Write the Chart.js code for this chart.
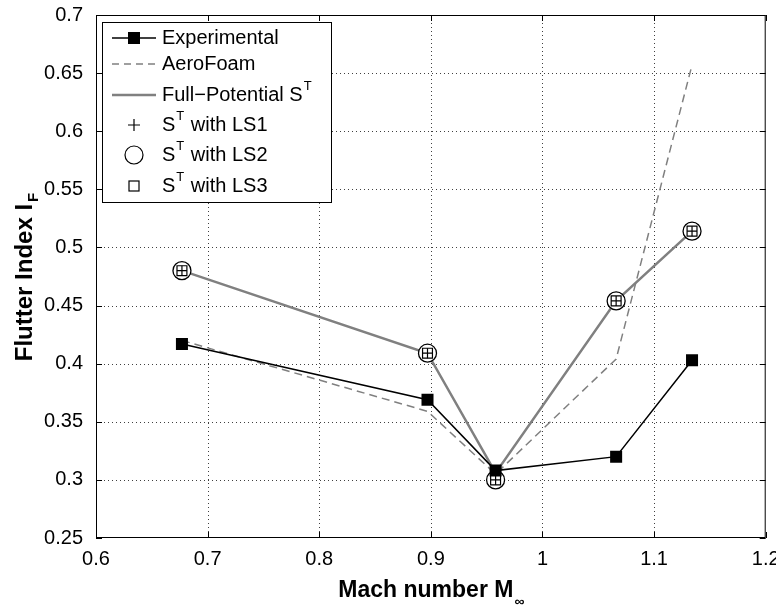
<!DOCTYPE html>
<html>
<head>
<meta charset="utf-8">
<script src="https://cdn.jsdelivr.net/npm/chart.js@4"></script>
<style>
  body { margin: 0; background: #fff; }
  #wrap { width: 776px; height: 611px; }
</style>
</head>
<body>
<div id="wrap"><canvas id="flutterChart"></canvas></div>
<script>
// Mach numbers of the test points
const mach = [0.677, 0.897, 0.958, 1.066, 1.134];

// Flutter index per series
const experimental = [0.417, 0.369, 0.308, 0.320, 0.403];
const aeroFoam = [0.420, 0.359, 0.305, 0.404, 0.657];
const fullPotential = [0.480, 0.409, 0.306, 0.454, 0.514];
const stLS1 = [0.480, 0.409, 0.300, 0.454, 0.514];
const stLS2 = [0.480, 0.409, 0.300, 0.454, 0.514];
const stLS3 = [0.480, 0.409, 0.300, 0.454, 0.514];

// Axis ticks
const xTicks = [0.6, 0.7, 0.8, 0.9, 1.0, 1.1, 1.2];
const yTicks = [0.25, 0.3, 0.35, 0.4, 0.45, 0.5, 0.55, 0.6, 0.65, 0.7];

const FONT = "'Liberation Sans', Arial, Helvetica, sans-serif";
const GRAY = '#808080';
const LEG = '20px ' + FONT;

function toPoints(ys) {
  return mach.map((m, i) => ({ x: m, y: ys[i] }));
}

function fmt(v) {
  return String(Number(v.toFixed(2)));
}

// draws "S" with a superscript T, returns the width used
function drawST(ctx, x, y) {
  ctx.font = LEG;
  ctx.fillText('S', x, y);
  let w = ctx.measureText('S').width;
  ctx.font = '13px ' + FONT;
  ctx.fillText('T', x + w + 1, y - 9);
  w += ctx.measureText('T').width + 2;
  ctx.font = LEG;
  return w;
}

// MATLAB-like dotted grid, frame, inner ticks, legend and axis titles
const matlabDecor = {
  id: 'matlabDecor',
  beforeDraw(chart) {
    const ctx = chart.ctx;
    ctx.save();
    ctx.fillStyle = '#fff';
    ctx.fillRect(0, 0, chart.width, chart.height);
    ctx.restore();
  },
  beforeDatasetsDraw(chart) {
    const { ctx, chartArea: a, scales: { x, y } } = chart;
    ctx.save();
    ctx.strokeStyle = 'rgba(0,0,0,0.75)';
    ctx.lineWidth = 1;
    ctx.setLineDash([1, 3]);
    ctx.beginPath();
    xTicks.slice(1, -1).forEach(v => {
      const px = Math.round(x.getPixelForValue(v)) + 0.5;
      ctx.moveTo(px, a.top); ctx.lineTo(px, a.bottom);
    });
    yTicks.slice(1, -1).forEach(v => {
      const py = Math.round(y.getPixelForValue(v)) + 0.5;
      ctx.moveTo(a.left, py); ctx.lineTo(a.right, py);
    });
    ctx.stroke();
    ctx.restore();
  },
  afterDraw(chart) {
    const { ctx, chartArea: a, scales: { x, y } } = chart;
    ctx.save();

    // frame
    ctx.strokeStyle = '#000';
    ctx.lineWidth = 1;
    ctx.setLineDash([]);
    ctx.strokeRect(a.left + 0.5, a.top + 0.5, a.right - a.left - 1, a.bottom - a.top - 1);

    // inner ticks on all four sides
    const tl = 6;
    ctx.beginPath();
    xTicks.forEach(v => {
      const px = Math.round(x.getPixelForValue(v)) + 0.5;
      ctx.moveTo(px, a.bottom); ctx.lineTo(px, a.bottom - tl);
      ctx.moveTo(px, a.top); ctx.lineTo(px, a.top + tl);
    });
    yTicks.forEach(v => {
      const py = Math.round(y.getPixelForValue(v)) + 0.5;
      ctx.moveTo(a.left, py); ctx.lineTo(a.left + tl, py);
      ctx.moveTo(a.right, py); ctx.lineTo(a.right - tl, py);
    });
    ctx.stroke();

    // legend box
    const lx = 102, ly = 22, lw = 229, lh = 180;
    ctx.fillStyle = '#fff';
    ctx.fillRect(lx, ly, lw, lh);
    ctx.strokeRect(lx + 0.5, ly + 0.5, lw, lh);

    const sx1 = 112, sx2 = 156, mx = 134, tx = 162;
    const rows = [38, 64, 95, 125, 155, 186];
    ctx.fillStyle = '#000';
    ctx.textBaseline = 'middle';
    ctx.textAlign = 'left';
    ctx.font = LEG;

    // Experimental
    ctx.strokeStyle = '#000';
    ctx.lineWidth = 1.5;
    ctx.beginPath(); ctx.moveTo(sx1, rows[0]); ctx.lineTo(sx2, rows[0]); ctx.stroke();
    ctx.fillRect(mx - 6, rows[0] - 6, 12, 12);
    ctx.fillText('Experimental', tx, rows[0]);

    // AeroFoam
    ctx.strokeStyle = GRAY;
    ctx.setLineDash([7, 5]);
    ctx.beginPath(); ctx.moveTo(sx1, rows[1]); ctx.lineTo(sx2, rows[1]); ctx.stroke();
    ctx.setLineDash([]);
    ctx.fillText('AeroFoam', tx, rows[1]);

    // Full-Potential
    ctx.lineWidth = 2.5;
    ctx.beginPath(); ctx.moveTo(sx1, rows[2]); ctx.lineTo(sx2, rows[2]); ctx.stroke();
    const fp = 'Full\u2212Potential ';
    ctx.fillText(fp, tx, rows[2]);
    drawST(ctx, tx + ctx.measureText(fp).width, rows[2]);

    // marker rows
    ctx.strokeStyle = '#000';
    ctx.lineWidth = 1.2;
    ctx.beginPath();
    ctx.moveTo(mx - 6, rows[3]); ctx.lineTo(mx + 6, rows[3]);
    ctx.moveTo(mx, rows[3] - 6); ctx.lineTo(mx, rows[3] + 6);
    ctx.stroke();
    ctx.beginPath(); ctx.arc(mx, rows[4], 9, 0, Math.PI * 2); ctx.stroke();
    ctx.strokeRect(mx - 5, rows[5] - 5, 10, 10);

    ['1', '2', '3'].forEach((n, i) => {
      const r = rows[3 + i];
      const w = drawST(ctx, tx, r);
      ctx.fillText(' with LS' + n, tx + w, r);
    });

    // x axis title with subscript infinity
    ctx.textBaseline = 'alphabetic';
    ctx.font = 'bold 23px ' + FONT;
    const xt = 'Mach number M';
    const xw = ctx.measureText(xt).width;
    ctx.font = 'bold 14px ' + FONT;
    const sw = ctx.measureText('\u221E').width;
    const cx = (a.left + a.right) / 2 - (xw + sw) / 2;
    ctx.font = 'bold 23px ' + FONT;
    ctx.fillText(xt, cx, 597);
    ctx.font = 'bold 14px ' + FONT;
    ctx.fillText('\u221E', cx + xw + 1, 606);

    // y axis title, rotated, with subscript F
    ctx.save();
    ctx.translate(32, 278);
    ctx.rotate(-Math.PI / 2);
    ctx.font = 'bold 24px ' + FONT;
    const yt = 'Flutter Index I';
    const yw = ctx.measureText(yt).width;
    ctx.font = 'bold 15px ' + FONT;
    const fw = ctx.measureText('F').width;
    const sy = -(yw + fw) / 2;
    ctx.font = 'bold 24px ' + FONT;
    ctx.fillText(yt, sy, 0);
    ctx.font = 'bold 15px ' + FONT;
    ctx.fillText('F', sy + yw + 2, 6);
    ctx.restore();

    ctx.restore();
  }
};

document.addEventListener('DOMContentLoaded', function() {
  const ctx = document.getElementById('flutterChart').getContext('2d');

  const flutterChart = new Chart(ctx, {
    type: 'scatter',
    data: {
      datasets: [
        {
          label: 'Experimental',
          data: toPoints(experimental),
          showLine: true,
          borderColor: '#000',
          backgroundColor: '#000',
          borderWidth: 1.5,
          pointStyle: 'rect',
          pointRadius: 8.5,
          pointBorderWidth: 0,
          order: 1
        },
        {
          label: 'AeroFoam',
          data: toPoints(aeroFoam),
          showLine: true,
          borderColor: GRAY,
          borderWidth: 1.5,
          borderDash: [8, 5],
          pointRadius: 0,
          order: 6
        },
        {
          label: 'Full-Potential S^T',
          data: toPoints(fullPotential),
          showLine: true,
          borderColor: GRAY,
          borderWidth: 2.5,
          pointRadius: 0,
          order: 5
        },
        {
          label: 'S^T with LS1',
          data: toPoints(stLS1),
          showLine: false,
          pointStyle: 'cross',
          pointRadius: 5,
          pointBorderWidth: 1.2,
          borderColor: '#000',
          order: 2
        },
        {
          label: 'S^T with LS2',
          data: toPoints(stLS2),
          showLine: false,
          pointStyle: 'circle',
          pointRadius: 9,
          pointBorderWidth: 1.3,
          borderColor: '#000',
          backgroundColor: '#fff',
          order: 4
        },
        {
          label: 'S^T with LS3',
          data: toPoints(stLS3),
          showLine: false,
          pointStyle: 'rect',
          pointRadius: 7,
          pointBorderWidth: 1.2,
          borderColor: '#000',
          backgroundColor: 'rgba(0,0,0,0)',
          order: 3
        }
      ]
    },
    options: {
      responsive: true,
      maintainAspectRatio: false,
      animation: false,
      layout: {
        padding: { top: 15, right: 8, left: 0, bottom: 0 }
      },
      plugins: {
        legend: { display: false },
        tooltip: { enabled: false }
      },
      scales: {
        x: {
          type: 'linear',
          min: 0.6,
          max: 1.2,
          afterBuildTicks: scale => {
            scale.ticks = xTicks.map(v => ({ value: v }));
          },
          afterFit: scale => {
            scale.height = 73;
            scale.paddingLeft = 0;
            scale.paddingRight = 0;
          },
          ticks: {
            color: '#000',
            padding: 1,
            font: { family: FONT, size: 20 },
            callback: v => fmt(v)
          },
          grid: { display: false },
          border: { display: false }
        },
        y: {
          type: 'linear',
          min: 0.25,
          max: 0.7,
          afterBuildTicks: scale => {
            scale.ticks = yTicks.map(v => ({ value: v }));
          },
          afterFit: scale => {
            scale.width = 96;
            scale.paddingTop = 0;
            scale.paddingBottom = 0;
          },
          ticks: {
            color: '#000',
            padding: 5,
            font: { family: FONT, size: 20 },
            callback: v => fmt(v)
          },
          grid: { display: false },
          border: { display: false }
        }
      }
    },
    plugins: [matlabDecor]
  });
});
</script>
</body>
</html>
